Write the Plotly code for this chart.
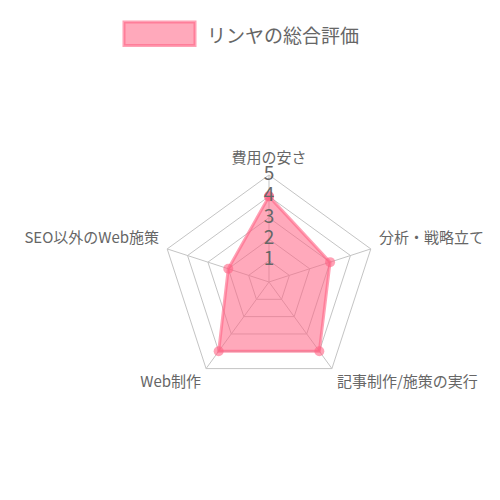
import plotly.graph_objects as go

# data
categories = ['費用の安さ', '分析・戦略立て', '記事制作/施策の実行', 'Web制作', 'SEO以外のWeb施策']
scores = [4, 3, 4, 4, 2]
series_name = 'リンヤの総合評価'
tick_values = [1, 2, 3, 4, 5]

font_family = 'Noto Sans CJK JP, Noto Sans, sans-serif'
grey_text = '#666666'
grid_grey = '#c4c4c4'
pink_fill = 'rgba(255, 99, 132, 0.55)'
pink_line = 'rgba(255, 99, 132, 0.6)'

# where each point label hangs off its spoke (Chart.js style)
label_positions = ['top center', 'top right', 'bottom right', 'bottom left', 'top left']
label_r = 5.4
r_max = tick_values[-1]

fig = go.Figure()

# spokes, drawn as traces so they stop at the outer ring
for cat in categories:
    fig.add_trace(go.Scatterpolar(
        r=[0, r_max], theta=[cat, cat], mode='lines',
        line=dict(color=grid_grey, width=1),
        showlegend=False, hoverinfo='skip',
    ))

# close the polygon
fig.add_trace(go.Scatterpolar(
    r=scores + scores[:1],
    theta=categories + categories[:1],
    mode='lines+markers',
    fill='toself',
    fillcolor=pink_fill,
    line=dict(color=pink_line, width=3),
    marker=dict(size=10, color=pink_line),
    name=series_name,
    showlegend=False,
))

# radial tick labels sitting on the top spoke
fig.add_trace(go.Scatterpolar(
    r=tick_values,
    theta=[categories[0]] * len(tick_values),
    mode='text',
    text=[str(v) for v in tick_values],
    textposition='middle center',
    textfont=dict(size=19, color=grey_text, family=font_family),
    showlegend=False,
    hoverinfo='skip',
    cliponaxis=False,
))

# point labels
fig.add_trace(go.Scatterpolar(
    r=[label_r] * len(categories),
    theta=categories,
    mode='text',
    text=categories,
    textposition=label_positions,
    textfont=dict(size=15, color=grey_text, family=font_family),
    showlegend=False,
    hoverinfo='skip',
    cliponaxis=False,
))

fig.update_layout(
    width=500,
    height=500,
    margin=dict(l=0, r=0, t=0, b=0),
    paper_bgcolor='white',
    plot_bgcolor='white',
    font=dict(family=font_family, color=grey_text),
    showlegend=False,
    polar=dict(
        domain=dict(x=[0.2908, 0.7532], y=[0.2208, 0.6832]),
        bgcolor='white',
        gridshape='linear',
        radialaxis=dict(
            range=[0, label_r],
            tickvals=tick_values,
            showticklabels=False,
            ticks='',
            showline=False,
            gridcolor=grid_grey,
            gridwidth=1,
            angle=90,
        ),
        angularaxis=dict(
            rotation=90,
            direction='clockwise',
            showgrid=False,
            showline=False,
            ticks='',
            showticklabels=False,
        ),
    ),
    # legend drawn by hand to mimic the wide Chart.js box
    shapes=[dict(
        type='rect', xref='paper', yref='paper',
        x0=0.232, x1=0.374, y0=0.925, y1=0.972,
        fillcolor=pink_fill,
        line=dict(color=pink_line, width=3),
    )],
    annotations=[dict(
        text=series_name, xref='paper', yref='paper',
        x=0.394, y=0.948, xanchor='left', yanchor='middle',
        showarrow=False,
        font=dict(size=19, color=grey_text, family=font_family),
    )],
)

fig.write_html('out.html')
